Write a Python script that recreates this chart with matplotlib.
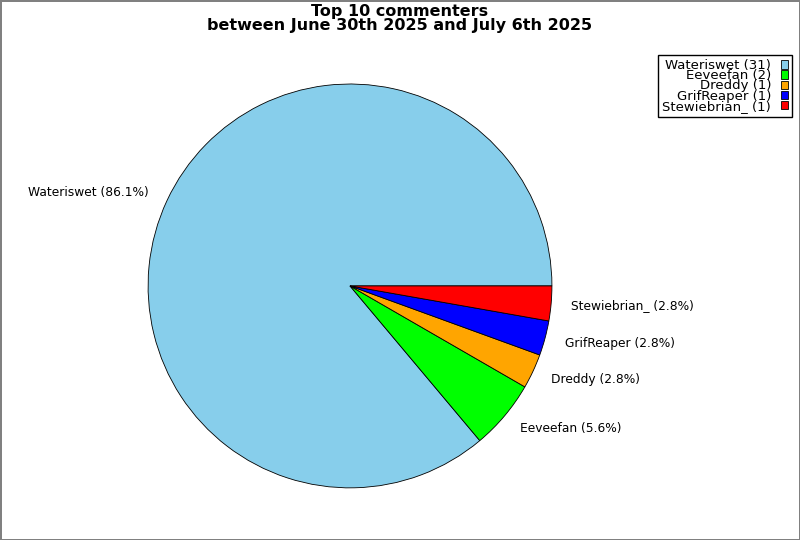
import matplotlib.pyplot as plt

# commenters and their comment counts
names = ['Wateriswet', 'Eeveefan', 'Dreddy', 'GrifReaper', 'Stewiebrian_']
counts = [31, 2, 1, 1, 1]
colors = ['skyblue', 'lime', 'orange', 'blue', 'red']

total = sum(counts)
pie_labels = ['%s (%.1f%%)' % (n, c / total * 100) for n, c in zip(names, counts)]
legend_labels = ['%s (%d)' % (n, c) for n, c in zip(names, counts)]

fig = plt.figure(figsize=(8, 5.4), dpi=100)
fig.patch.set_edgecolor('gray')
fig.patch.set_linewidth(2)

ax = fig.add_axes([0.122, 0.003, 0.631, 0.935])
wedges, texts = ax.pie(counts, labels=pie_labels, colors=colors,
                       labeldistance=1.1, textprops={'fontsize': 8.8},
                       wedgeprops={'edgecolor': 'black', 'linewidth': 0.6})

fig.suptitle('Top 10 commenters\nbetween June 30th 2025 and July 6th 2025',
             fontsize=11.5, fontweight='bold', y=0.993, linespacing=0.95)

leg = fig.legend(wedges, legend_labels, loc='upper right',
                 bbox_to_anchor=(0.993, 0.903), markerfirst=False,
                 fontsize=9.5, handlelength=0.55, handleheight=0.6,
                 handletextpad=0.72, labelspacing=-0.21, borderpad=0.3,
                 borderaxespad=0.2,
                 fancybox=False, framealpha=1, edgecolor='black')
for t in leg.get_texts():
    t.set_ha('right')

fig.savefig('out.png', dpi=100, edgecolor=fig.get_edgecolor())
